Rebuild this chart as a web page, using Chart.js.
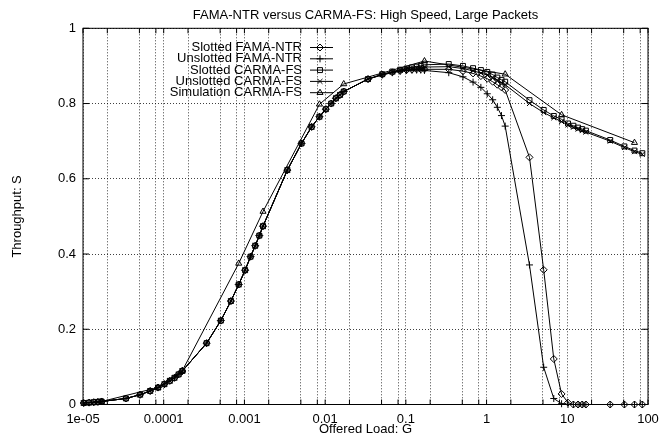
<!DOCTYPE html>
<html>
<head>
<meta charset="utf-8">
<script src="https://cdn.jsdelivr.net/npm/chart.js@4.4.1/dist/chart.umd.min.js"></script>
<style>
  html, body { margin: 0; padding: 0; background: #fff; }
</style>
</head>
<body>
<canvas id="myChart" width="671" height="435"></canvas>
<script>
// offered load values used by the four analytic curves
const loadAnalytic = [
  1.02e-5, 1.19e-5, 1.36e-5, 1.53e-5, 1.7e-5, 3.4e-5, 5.1e-5, 6.8e-5, 8.5e-5,
  1.02e-4, 1.19e-4, 1.36e-4, 1.53e-4, 1.7e-4, 3.4e-4, 5.1e-4, 6.8e-4, 8.5e-4,
  1.02e-3, 1.19e-3, 1.36e-3, 1.53e-3, 1.7e-3, 3.4e-3, 5.1e-3, 6.8e-3, 8.5e-3,
  0.0102, 0.0119, 0.0136, 0.0153, 0.017, 0.034, 0.051, 0.068, 0.085,
  0.102, 0.119, 0.136, 0.153, 0.17, 0.34, 0.51, 0.68, 0.85,
  1.02, 1.19, 1.36, 1.53, 1.7, 3.4, 5.1, 6.8, 8.5,
  10.2, 11.9, 13.6, 15.3, 17, 34, 51, 68, 85
];

const slottedFama = [
  0.004, 0.005, 0.006, 0.007, 0.008, 0.016, 0.026, 0.036, 0.045,
  0.054, 0.063, 0.071, 0.080, 0.089, 0.163, 0.223, 0.275, 0.319,
  0.357, 0.393, 0.422, 0.449, 0.474, 0.623, 0.694, 0.738, 0.765,
  0.785, 0.800, 0.814, 0.823, 0.832, 0.865, 0.877, 0.883, 0.887,
  0.889, 0.890, 0.891, 0.891, 0.891, 0.891, 0.886, 0.880, 0.873,
  0.866, 0.858, 0.850, 0.843, 0.836, 0.657, 0.358, 0.121, 0.028,
  0.005, 0, 0, 0, 0, 0, 0, 0, 0
];

const unslottedFama = [
  0.004, 0.005, 0.006, 0.007, 0.008, 0.016, 0.026, 0.036, 0.045,
  0.054, 0.063, 0.071, 0.080, 0.089, 0.163, 0.223, 0.275, 0.319,
  0.357, 0.393, 0.422, 0.449, 0.474, 0.623, 0.694, 0.738, 0.765,
  0.785, 0.800, 0.814, 0.823, 0.832, 0.865, 0.876, 0.882, 0.886,
  0.888, 0.889, 0.889, 0.889, 0.888, 0.882, 0.871, 0.857, 0.843,
  0.826, 0.810, 0.790, 0.768, 0.740, 0.371, 0.099, 0.016, 0.002,
  0, 0, 0, 0, 0, 0, 0, 0, 0
];

const slottedCarma = [
  0.004, 0.005, 0.006, 0.007, 0.008, 0.016, 0.026, 0.036, 0.045,
  0.054, 0.063, 0.071, 0.080, 0.089, 0.163, 0.223, 0.275, 0.319,
  0.357, 0.393, 0.422, 0.449, 0.474, 0.623, 0.694, 0.738, 0.765,
  0.785, 0.800, 0.814, 0.823, 0.832, 0.865, 0.878, 0.885, 0.890,
  0.893, 0.896, 0.898, 0.900, 0.903, 0.905, 0.900, 0.894, 0.889,
  0.884, 0.877, 0.869, 0.863, 0.858, 0.809, 0.783, 0.767, 0.758,
  0.747, 0.741, 0.736, 0.732, 0.728, 0.703, 0.686, 0.675, 0.668
];

const unslottedCarma = [
  0.004, 0.005, 0.006, 0.007, 0.008, 0.016, 0.026, 0.036, 0.045,
  0.054, 0.063, 0.071, 0.080, 0.089, 0.163, 0.223, 0.275, 0.319,
  0.357, 0.393, 0.422, 0.449, 0.474, 0.623, 0.694, 0.738, 0.765,
  0.785, 0.800, 0.814, 0.823, 0.832, 0.865, 0.877, 0.884, 0.888,
  0.891, 0.893, 0.895, 0.896, 0.897, 0.898, 0.893, 0.887, 0.881,
  0.876, 0.869, 0.862, 0.855, 0.850, 0.800, 0.776, 0.762, 0.752,
  0.743, 0.737, 0.732, 0.728, 0.724, 0.700, 0.683, 0.672, 0.665
];

// simulation points
const loadSimulation = [1.7e-5, 8.5e-5, 1.7e-4, 8.5e-4, 1.7e-3, 8.5e-3, 0.017, 0.17, 1.7, 8.5, 68];
const simulationCarma = [0.008, 0.045, 0.090, 0.375, 0.513, 0.798, 0.852, 0.913, 0.878, 0.770, 0.696];

const seriesLabels = ['Slotted FAMA-NTR', 'Unslotted FAMA-NTR', 'Slotted CARMA-FS', 'Unslotted CARMA-FS', 'Simulation CARMA-FS'];
const seriesMarkers = ['rectRot', 'cross', 'rect', 'crossRot', 'triangle'];

// vertical grid positions and which of them carry a label
const xGridValues = [
  1e-5, 2e-5, 5e-5, 8e-5, 1e-4, 2e-4, 5e-4, 8e-4, 1e-3, 2e-3, 5e-3, 8e-3,
  0.01, 0.02, 0.05, 0.08, 0.1, 0.2, 0.5, 0.8, 1, 2, 5, 8, 10, 20, 50, 80, 100
];
const xTickValues = [1e-5, 1e-4, 1e-3, 0.01, 0.1, 1, 10, 100];
const xTickLabels = ['1e-05', '0.0001', '0.001', '0.01', '0.1', '1', '10', '100'];
const yTickLabels = ['0', '0.2', '0.4', '0.6', '0.8', '1'];

const chartTitle = 'FAMA-NTR versus CARMA-FS: High Speed, Large Packets';

const FONT = 'Liberation Sans, Arial, Helvetica, sans-serif';
const FONT_SIZE = 13;

function zip(xs, ys) {
  return xs.map((x, i) => ({ x: x, y: ys[i] }));
}

const seriesData = [
  zip(loadAnalytic, slottedFama),
  zip(loadAnalytic, unslottedFama),
  zip(loadAnalytic, slottedCarma),
  zip(loadAnalytic, unslottedCarma),
  zip(loadSimulation, simulationCarma)
];

const datasets = seriesData.map((d, i) => ({
  label: seriesLabels[i],
  data: d,
  borderColor: '#000',
  borderWidth: 1,
  pointStyle: seriesMarkers[i],
  pointRadius: 3.5,
  pointBorderWidth: 1,
  pointBorderColor: '#000',
  pointBackgroundColor: 'rgba(0,0,0,0)',
  tension: 0,
  clip: 6
}));

// gnuplot style frame, inward ticks, title over the plot and key
const framePlugin = {
  id: 'frame',
  afterDraw(chart) {
    const ctx = chart.ctx;
    const a = chart.chartArea;
    const xs = chart.scales.x;
    const ys = chart.scales.y;
    ctx.save();
    ctx.strokeStyle = '#000';
    ctx.lineWidth = 1;
    ctx.setLineDash([]);
    ctx.strokeRect(a.left, a.top, a.right - a.left, a.bottom - a.top);

    ctx.beginPath();
    yTickLabels.forEach((t, i) => {
      const y = ys.getPixelForValue(i * 0.2);
      ctx.moveTo(a.left, y); ctx.lineTo(a.left + 6, y);
      ctx.moveTo(a.right, y); ctx.lineTo(a.right - 6, y);
    });
    xGridValues.forEach(v => {
      const x = xs.getPixelForValue(v);
      ctx.moveTo(x, a.bottom); ctx.lineTo(x, a.bottom - 5);
      ctx.moveTo(x, a.top); ctx.lineTo(x, a.top + 5);
    });
    ctx.stroke();

    ctx.font = FONT_SIZE + 'px ' + FONT;
    ctx.fillStyle = '#000';
    ctx.textBaseline = 'middle';

    // title, centred on the plot area
    ctx.textAlign = 'center';
    ctx.fillText(chartTitle, (a.left + a.right) / 2, 15);

    // key
    ctx.textAlign = 'right';
    const rows = [47.5, 58.8, 70.1, 81.4, 92.7];
    seriesLabels.forEach((label, i) => {
      const y = rows[i];
      ctx.fillText(label, 302, y);
      ctx.beginPath();
      ctx.moveTo(310, y);
      ctx.lineTo(333, y);
      ctx.stroke();
      ctx.fillStyle = 'rgba(0,0,0,0)';
      Chart.helpers.drawPoint(ctx, { pointStyle: seriesMarkers[i], radius: 3.5, borderWidth: 1, rotation: 0 }, 320, y);
      ctx.fillStyle = '#000';
    });
    ctx.restore();
  }
};

const options = {
  responsive: false,
  animation: false,
  layout: {
    padding: { left: 0, right: 23, top: 28.3, bottom: 0 }
  },
  scales: {
    x: {
      type: 'logarithmic',
      min: 1e-5,
      max: 100,
      afterBuildTicks(scale) {
        scale.ticks = xGridValues.map(v => ({ value: v }));
      },
      afterFit(scale) {
        scale.height = 30.5;
      },
      grid: {
        drawTicks: false,
        color: 'rgba(0, 0, 0, 0.75)',
        lineWidth: 1
      },
      border: { display: false, dash: [1, 2] },
      ticks: {
        autoSkip: false,
        maxRotation: 0,
        padding: 7,
        color: '#000',
        font: { family: FONT, size: FONT_SIZE },
        callback(value) {
          const k = xTickValues.findIndex(t => Math.abs(Math.log10(t) - Math.log10(value)) < 1e-6);
          return k >= 0 ? xTickLabels[k] : '';
        }
      },
      title: {
        display: true,
        text: 'Offered Load: G',
        color: '#000',
        font: { family: FONT, size: FONT_SIZE },
        padding: { top: 0, bottom: -2 }
      }
    },
    y: {
      min: 0,
      max: 1,
      afterFit(scale) {
        scale.width = 83;
      },
      grid: {
        drawTicks: false,
        color: 'rgba(0, 0, 0, 0.75)',
        lineWidth: 1
      },
      border: { display: false, dash: [1, 2] },
      ticks: {
        stepSize: 0.2,
        padding: 7,
        color: '#000',
        font: { family: FONT, size: FONT_SIZE },
        callback(value, index) {
          return yTickLabels[index];
        }
      },
      title: {
        display: true,
        text: 'Throughput: S',
        color: '#000',
        font: { family: FONT, size: FONT_SIZE },
        padding: { top: 10, bottom: 0 }
      }
    }
  },
  plugins: {
    title: { display: false },
    legend: { display: false },
    tooltip: { enabled: false }
  }
};

const chart = new Chart('myChart', {
  type: 'line',
  data: { datasets: datasets },
  options: options,
  plugins: [framePlugin]
});
</script>
</body>
</html>
